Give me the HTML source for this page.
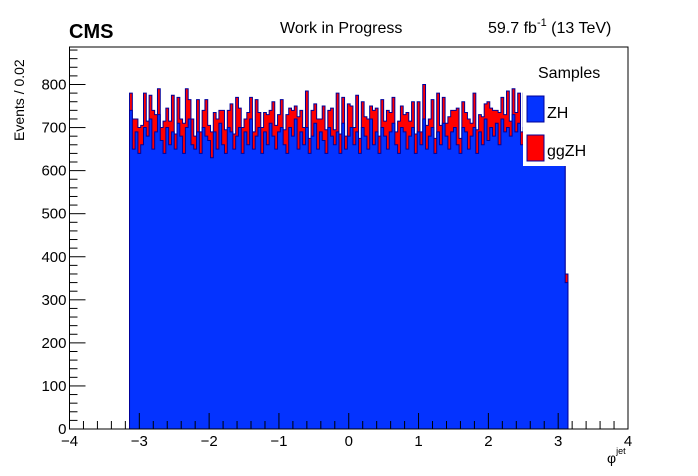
<!DOCTYPE html>
<html><head><meta charset="utf-8">
<style>
body{margin:0;background:#fff;}
svg{display:block;font-family:"Liberation Sans",sans-serif;}
</style></head>
<body>
<svg id="c" width="698" height="476" viewBox="0 0 698 476">
<rect x="0" y="0" width="698" height="476" fill="#fff"/>
<g id="bars"></g>
<g id="axes"></g>
<text x="69" y="38" font-size="20" font-weight="bold">CMS</text>
<text x="280" y="33" font-size="16">Work in Progress</text>
<text x="488" y="33" font-size="16">59.7 fb<tspan font-size="11" dy="-7">-1</tspan><tspan dy="7"> (13 TeV)</tspan></text>
<text transform="translate(24,141) rotate(-90)" text-anchor="start" font-size="14">Events / 0.02</text>
<text x="607" y="463" font-size="14">φ<tspan font-size="9" dy="-9">jet</tspan></text>
<g>
<rect x="523" y="55" width="45" height="111" fill="#fff"/>
<text x="538" y="78" font-size="16">Samples</text>
<rect x="527" y="96" width="17" height="26" fill="#0433ff" stroke="#000099"/>
<text x="547" y="118" font-size="16">ZH</text>
<rect x="527" y="135" width="17" height="26" fill="#ff0000" stroke="#000099"/>
<text x="547" y="156" font-size="16">ggZH</text>
</g>
</svg>
<script>
const xTicks=[-4,-3,-2,-1,0,1,2,3,4];
const xTickLabels=["−4","−3","−2","−1","0","1","2","3","4"];
const yTicks=[0,100,200,300,400,500,600,700,800];
const yTickLabels=["0","100","200","300","400","500","600","700","800"];
const binLow=-3.14, binWidth=0.04;
const zh=[
740,650,690,640,660,700,680,720,650,690,730,670,640,700,660,690,650,710,680,640,
700,720,660,650,690,640,700,680,670,630,690,650,710,660,640,700,690,650,680,700,
640,690,660,720,650,680,700,640,690,660,710,680,650,690,700,660,640,700,680,720,
650,690,660,700,640,680,710,650,690,670,640,700,680,660,690,640,710,650,680,700,
660,690,640,700,680,650,720,660,690,640,700,680,650,690,710,660,640,700,690,650,
680,700,640,690,660,720,650,680,700,640,690,660,710,680,650,690,700,660,640,700,
690,650,680,700,640,690,660,720,670,700,680,710,660,720,690,700,680,730,690,710,
660,700,680,650,690,700,640,680,710,660,690,650,700,680,660,690,340];
const gg=[
40,70,30,60,45,80,35,55,90,40,60,30,75,45,55,85,35,60,40,70,
90,45,60,30,75,50,40,85,35,60,45,70,30,80,55,40,65,35,90,45,
60,30,75,50,40,85,35,60,45,70,30,80,55,40,65,35,90,45,60,30,
75,50,40,85,35,60,45,70,30,80,55,40,65,35,90,45,60,30,75,50,
40,85,35,60,45,70,30,80,55,40,65,35,90,45,60,30,75,50,40,85,
35,60,45,70,30,80,55,40,65,35,90,45,60,30,75,50,40,85,35,60,
45,70,30,80,55,40,65,35,90,45,60,30,75,50,40,85,35,60,45,70,
30,80,55,40,65,35,90,45,60,30,75,50,40,60,45,70,20];
const X0=69.5,X1=628,Y0=429,YT=84.5,FT=47;
function sx(v){return X0+(v+4)/8*(X1-X0);}
function sy(v){return Y0-v/800*(Y0-YT);}
const NS="http://www.w3.org/2000/svg";
function mk(tag,attrs,parent){const e=document.createElementNS(NS,tag);for(const k in attrs)e.setAttribute(k,attrs[k]);parent.appendChild(e);return e;}
const bars=document.getElementById('bars');
function stepPath(vals){
  let d="M"+sx(binLow).toFixed(2)+","+sy(0).toFixed(2);
  for(let i=0;i<vals.length;i++){
    const a=sx(binLow+i*binWidth),b=sx(binLow+(i+1)*binWidth),y=sy(vals[i]);
    d+="L"+a.toFixed(2)+","+y.toFixed(2)+"L"+b.toFixed(2)+","+y.toFixed(2);
  }
  d+="L"+sx(binLow+vals.length*binWidth).toFixed(2)+","+sy(0).toFixed(2)+"Z";
  return d;
}
const tot=zh.map((v,i)=>v+gg[i]);
const p1=mk('path',{d:stepPath(tot),fill:"#ff0000",stroke:"#000099","stroke-width":"1"},bars);


const p2=mk('path',{d:stepPath(zh),fill:"#0433ff",stroke:"#000099","stroke-width":"1"},bars);


const ax=document.getElementById('axes');
const fr=mk('rect',{x:X0,y:FT,width:X1-X0,height:Y0-FT,fill:"none",stroke:"#000","stroke-width":"1"},ax);


for(let v=-4;v<=4.001;v+=0.2){
  const big=Math.abs(v-Math.round(v))<0.01;const x=sx(v);
  mk('line',{x1:x,x2:x,y1:Y0,y2:Y0-(big?16:8),stroke:"#000"},ax);
}
xTicks.forEach((v,i)=>{
  const t=mk('text',{x:sx(v),y:Y0+17,"font-size":"15","text-anchor":"middle"},ax);
  t.textContent=xTickLabels[i];
  
  
});
for(let v=0;v<=880;v+=20){
  const big=v%100===0;const y=sy(v);
  if(y<FT)break;
  mk('line',{x1:X0,x2:X0+(big?16:8),y1:y,y2:y,stroke:"#000"},ax);
}
yTicks.forEach((v,i)=>{
  const t=mk('text',{x:X0-3,y:sy(v)+5,"font-size":"15","text-anchor":"end"},ax);
  t.textContent=yTickLabels[i];
  
  
});
</script>
</body></html>
